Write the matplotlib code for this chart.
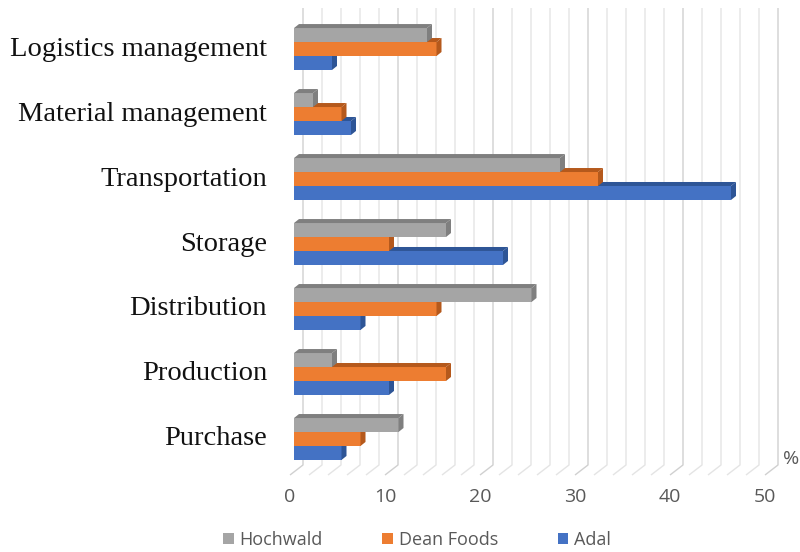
import numpy as np
import matplotlib
matplotlib.use("Agg")
import matplotlib.pyplot as plt
from matplotlib.patches import Polygon, Patch

categories = ["Purchase", "Production", "Distribution", "Storage",
              "Transportation", "Material management", "Logistics management"]
hochwald = [11, 4, 25, 16, 28, 2, 14]
dean_foods = [7, 16, 15, 10, 32, 5, 15]
adal = [5, 10, 7, 22, 46, 6, 4]
x_ticks = [0, 10, 20, 30, 40, 50]

series = [("Hochwald", hochwald, "#A5A5A5", "#7F7F7F"),
          ("Dean Foods", dean_foods, "#ED7D31", "#B5591C"),
          ("Adal", adal, "#4472C4", "#2E5596")]

W, H = 800, 552
fig = plt.figure(figsize=(W / 100, H / 100), dpi=100)
# axes in pixel terms: x 294..769 for 0..50, y 8..475
ax = fig.add_axes([294 / W, (H - 475) / H, 475 / W, (475 - 8) / H])
ax.set_xlim(0, 50)
ax.set_ylim(-0.554, 6.631)
ax.axis("off")

px_x = 50 / 475   # data units per pixel
px_y = 1 / 65

# back wall + floor gridlines
y_top, y_floor, y_bot = 6.631, -0.4, -0.554
for v in np.arange(0, 51, 2):
    col = "#D0D0D0" if v % 10 == 0 else "#E4E4E4"
    ax.plot([v + 9 * px_x, v + 9 * px_x, v - 4 * px_x], [y_top, y_floor, y_bot],
            color=col, lw=1.0, zorder=1, clip_on=False, solid_capstyle="butt")

h = 0.215
dx, dy = 5 * px_x, 4 * px_y
y = np.arange(len(categories))
offsets = [h, 0, -h]
for k in [2, 1, 0]:
    name, vals, front, dark = series[k]
    z = 3 + (2 - k) * 2
    ax.barh(y + offsets[k], vals, height=h, color=front, zorder=z, linewidth=0)
    for yc, w in zip(y + offsets[k], vals):
        top, bot = yc + h / 2, yc - h / 2
        ax.add_patch(Polygon([(0, top), (w, top), (w + dx, top + dy), (dx, top + dy)],
                             closed=True, facecolor=dark, edgecolor="none", zorder=z + 1))
        ax.add_patch(Polygon([(w, bot), (w, top), (w + dx, top + dy), (w + dx, bot + dy)],
                             closed=True, facecolor=dark, edgecolor="none", zorder=z + 1))

for cat, yc in zip(categories, y):
    ax.text(-27 * px_x, yc, cat, ha="right", va="center", fontsize=20.5,
            family="Liberation Serif", color="#111111", clip_on=False)

for t in x_ticks:
    ax.text(t - 4 * px_x, -0.892, str(t), ha="center", va="center", fontsize=14,
            family="Open Sans", color="#595959", clip_on=False)

fig.text(791 / W, (H - 459) / H, "%", ha="center", va="center", fontsize=14,
         family="Open Sans", color="#595959")

handles = [Patch(facecolor=s[2], edgecolor="none", label=s[0]) for s in series]
fig.legend(handles=handles, loc="center", bbox_to_anchor=(417 / W, (H - 540) / H),
           ncol=3, frameon=False, handlelength=0.6, handleheight=0.6,
           handletextpad=0.3, columnspacing=3.3,
           prop={"family": "Open Sans", "size": 13}, labelcolor="#595959")

fig.savefig("out.png", dpi=100, facecolor="white")
